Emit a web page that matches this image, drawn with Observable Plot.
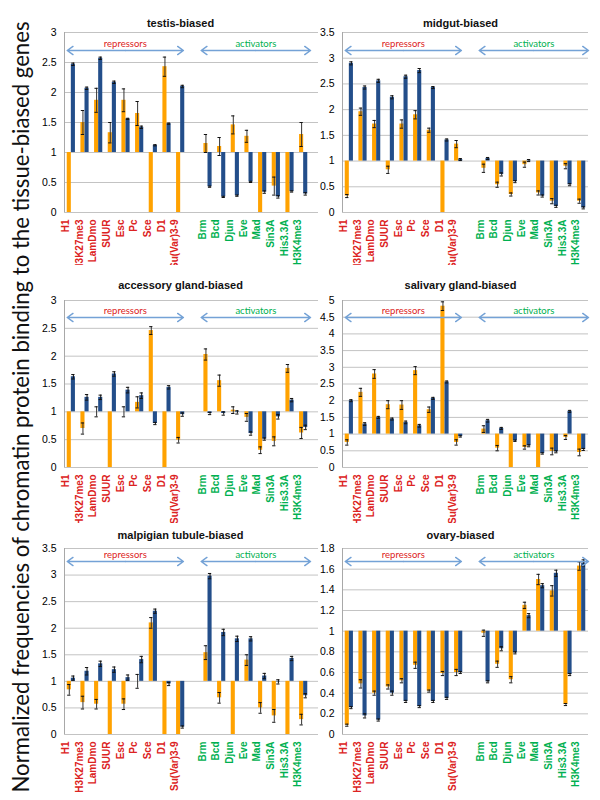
<!DOCTYPE html>
<html><head><meta charset="utf-8">
<script src="https://cdn.jsdelivr.net/npm/d3@7"></script>
<script src="https://cdn.jsdelivr.net/npm/@observablehq/plot@0.6"></script>
<style>
body{margin:0;background:#fff;}
#root{position:relative;width:600px;height:800px;overflow:hidden;background:#fff;}
.panel{position:absolute;}
</style></head><body><div id="root"></div>
<script>
const repressors = ["H1","H3K27me3","LamDmo","SUUR","Esc","Pc","Sce","D1","Su(Var)3-9"];
const activators = ["Brm","Bcd","Djun","Eve","Mad","Sin3A","His3.3A","H3K4me3"];
const groupLabels = ["repressors","activators"];
const yLabel = "Normalized frequencies of chromatin protein binding to the tissue-biased genes";

const titles = ["testis-biased","midgut-biased","accessory gland-biased","salivary gland-biased","malpigian tubule-biased","ovary-biased"];
const yMax = [3, 3.5, 3, 5, 3.5, 1.8];
const yStep = [0.5, 0.5, 0.5, 0.5, 0.5, 0.2];

// testis
const testisOrange    = [0, 1.50, 1.87, 1.33, 1.87, 1.65, 0, 2.43, 0, 1.15, 1.10, 1.46, 1.27, 0, 0.44, 0, 1.30];
const testisOrangeErr = [0, 0.20, 0.20, 0.17, 0.19, 0.20, 0, 0.16, 0, 0.15, 0.15, 0.15, 0.10, 0, 0.15, 0, 0.20];
const testisBlue      = [2.47, 2.07, 2.57, 2.17, 1.56, 1.42, 1.12, 1.48, 2.10, 0.43, 0.26, 0.28, 0.51, 0.34, 0.26, 0.35, 0.31];
const testisBlueErr   = [0.02, 0.02, 0.02, 0.02, 0.01, 0.02, 0.01, 0.01, 0.02, 0.01, 0.01, 0.01, 0.01, 0.02, 0.02, 0.01, 0.02];
// midgut
const midgutOrange    = [0.32, 1.96, 1.72, 0.83, 1.72, 1.90, 1.60, 0, 1.33, 0.86, 0.54, 0.35, 0.93, 0.38, 0.22, 0.90, 0.22];
const midgutOrangeErr = [0.03, 0.07, 0.07, 0.07, 0.08, 0.08, 0.04, 0, 0.07, 0.08, 0.05, 0.03, 0.05, 0.04, 0.05, 0.05, 0.04];
const midgutBlue      = [2.90, 2.43, 2.56, 2.24, 2.64, 2.76, 2.43, 1.41, 1.03, 1.05, 0.74, 0.60, 1.01, 0.32, 0.12, 0.54, 0.09];
const midgutBlueErr   = [0.03, 0.03, 0.03, 0.03, 0.03, 0.04, 0.02, 0.02, 0.02, 0.02, 0.03, 0.02, 0.02, 0.02, 0.02, 0.02, 0.02];
// accessory gland
const accOrange    = [0, 0.70, 1.00, 0, 1.00, 1.17, 2.46, 0, 0.49, 2.03, 1.56, 1.03, 0.90, 0.31, 0.47, 1.78, 0.62];
const accOrangeErr = [0, 0.10, 0.09, 0, 0.09, 0.10, 0.07, 0, 0.05, 0.10, 0.10, 0.06, 0.07, 0.06, 0.08, 0.07, 0.10];
const accBlue      = [1.63, 1.26, 1.26, 1.68, 1.39, 1.29, 0.79, 1.44, 0.95, 0.97, 0.97, 0.99, 0.61, 0.51, 0.91, 1.21, 0.72];
const accBlueErr   = [0.04, 0.05, 0.04, 0.04, 0.05, 0.05, 0.02, 0.03, 0.03, 0.02, 0.03, 0.03, 0.03, 0.02, 0.04, 0.03, 0.04];
// salivary gland
const salOrange    = [0.75, 2.25, 2.80, 1.88, 1.87, 2.90, 1.73, 4.83, 0.75, 1.15, 0.58, 0, 0.60, 0, 0.48, 0.90, 0.45];
const salOrangeErr = [0.08, 0.12, 0.13, 0.12, 0.13, 0.12, 0.08, 0.13, 0.08, 0.10, 0.08, 0, 0.05, 0, 0.10, 0.06, 0.10];
const salBlue      = [2.00, 1.30, 1.50, 1.45, 1.35, 1.25, 2.07, 2.56, 0.93, 1.40, 1.17, 0.80, 0.65, 0.42, 0.47, 1.68, 0.54];
const salBlueErr   = [0.03, 0.04, 0.03, 0.03, 0.04, 0.04, 0.03, 0.03, 0.02, 0.04, 0.03, 0.02, 0.03, 0.02, 0.03, 0.03, 0.03];
// malpighian tubule
const malOrange    = [0.84, 0.60, 0.57, 0, 0.57, 1.00, 2.10, 0, 0, 1.54, 0.69, 0, 1.40, 0.50, 0.35, 0, 0.28];
const malOrangeErr = [0.10, 0.12, 0.09, 0, 0.10, 0.13, 0.10, 0, 0, 0.13, 0.10, 0, 0.10, 0.10, 0.12, 0, 0.10];
const malBlue      = [1.06, 1.19, 1.33, 1.22, 1.07, 1.41, 2.32, 0.95, 0.14, 2.98, 1.92, 1.80, 1.80, 1.10, 0.99, 1.43, 0.73];
const malBlueErr   = [0.04, 0.07, 0.05, 0.05, 0.05, 0.06, 0.04, 0.03, 0.02, 0.05, 0.06, 0.05, 0.04, 0.05, 0.04, 0.04, 0.04];
// ovary
const ovaOrange    = [0.09, 0.49, 0.40, 0.46, 0.52, 0.67, 0.42, 0.59, 0.60, 0.98, 0.68, 0.53, 1.25, 1.50, 1.39, 0.29, 1.63];
const ovaOrangeErr = [0.01, 0.04, 0.02, 0.02, 0.02, 0.03, 0.01, 0.02, 0.03, 0.03, 0.03, 0.03, 0.03, 0.05, 0.05, 0.01, 0.04];
const ovaBlue      = [0.26, 0.18, 0.14, 0.40, 0.32, 0.27, 0.32, 0.35, 0.60, 0.51, 0.83, 0.79, 1.15, 1.44, 1.56, 0.58, 1.66];
const ovaBlueErr   = [0.01, 0.02, 0.01, 0.02, 0.01, 0.01, 0.01, 0.01, 0.01, 0.01, 0.02, 0.01, 0.02, 0.02, 0.03, 0.01, 0.03];

const series = [
  [testisOrange, testisOrangeErr, testisBlue, testisBlueErr],
  [midgutOrange, midgutOrangeErr, midgutBlue, midgutBlueErr],
  [accOrange, accOrangeErr, accBlue, accBlueErr],
  [salOrange, salOrangeErr, salBlue, salBlueErr],
  [malOrange, malOrangeErr, malBlue, malBlueErr],
  [ovaOrange, ovaOrangeErr, ovaBlue, ovaBlueErr]
];

const ORANGE = "#ffa200", BLUE = "#234e8a", RED = "#dc2222", GREEN = "#00b050", ARROW = "#74a2d6", GRID = "#c3c3c3";
const FONT = "'Liberation Sans', Arial, sans-serif";

const cols = [
  {left: 30, width: 288, ml: 34, mr: 0, tdx: -11},
  {left: 318, width: 282, ml: 24, mr: 12, tdx: -5}
];
const rowsGeo = [
  {top: 0, height: 265, mt: 32, mb: 53, tdy: -13, ady: 18, gdy: 11.5},
  {top: 265, height: 258, mt: 35, mb: 56, tdy: -19, ady: 17, gdy: 10},
  {top: 523, height: 277, mt: 25, mb: 66, tdy: -17, ady: 13, gdy: 6.5}
];

const cats = [...repressors, ...activators];
const slotIndex = cats.map((c, i) => i < repressors.length ? i : i + 1);

const root = document.getElementById("root");

titles.forEach((title, p) => {
  const col = cols[p % 2], rg = rowsGeo[Math.floor(p / 2)];
  const [o, oe, b, be] = series[p];
  const data = cats.map((c, i) => ({cat: c, i: slotIndex[i], rep: i < repressors.length, o: o[i], oe: oe[i], b: b[i], be: be[i]}));
  const ymax = yMax[p];
  const ticks = d3.range(0, Math.round(ymax / yStep[p]) + 1).map(k => +(k * yStep[p]).toFixed(1));
  const oErr = data.filter(d => d.oe > 0), bErr = data.filter(d => d.be > 0);
  const first = slotIndex[0], lastRep = slotIndex[repressors.length - 1];
  const firstAct = slotIndex[repressors.length], lastAct = slotIndex[cats.length - 1];
  const groups = [
    {label: groupLabels[0], a: first - 0.3, z: lastRep + 0.2, fill: RED},
    {label: groupLabels[1], a: firstAct - 0.5, z: lastAct + 0.5, fill: GREEN}
  ];
  const arrows = groups.flatMap(g => [{x1: (g.a + g.z) / 2, x2: g.a}, {x1: (g.a + g.z) / 2, x2: g.z}]);

  const chart = Plot.plot({
    width: col.width, height: rg.height,
    marginLeft: col.ml, marginRight: col.mr, marginTop: rg.mt, marginBottom: rg.mb,
    style: {fontFamily: FONT, fontSize: "10px", background: "white", overflow: "hidden"},
    x: {type: "linear", domain: [-0.5, 17.5], range: [col.ml, col.ml + 246], axis: null},
    y: {domain: [0, ymax], axis: null},
    marks: [
      Plot.ruleY(ticks, {stroke: GRID, strokeWidth: 1}),
      Plot.ruleX([-0.5], {stroke: "#a8a8a8", strokeWidth: 1}),
      Plot.axisY({ticks, tickSize: 0, tickPadding: 8, label: null, fontSize: 10.5, tickFormat: d => String(d)}),
      Plot.rect(data, {x1: d => d.i - 0.3, x2: d => d.i, y1: () => 1, y2: "o", fill: ORANGE}),
      Plot.rect(data, {x1: d => d.i, x2: d => d.i + 0.3, y1: () => 1, y2: "b", fill: BLUE}),
      Plot.ruleX(oErr, {x: d => d.i - 0.15, y1: d => d.o - d.oe, y2: d => d.o + d.oe, stroke: "#333", strokeWidth: 1}),
      Plot.ruleY(oErr, {y: d => d.o + d.oe, x1: d => d.i - 0.27, x2: d => d.i - 0.03, stroke: "#111", strokeWidth: 1}),
      Plot.ruleY(oErr, {y: d => d.o - d.oe, x1: d => d.i - 0.27, x2: d => d.i - 0.03, stroke: "#111", strokeWidth: 1}),
      Plot.ruleX(bErr, {x: d => d.i + 0.15, y1: d => d.b - d.be, y2: d => d.b + d.be, stroke: "#111", strokeWidth: 1}),
      Plot.ruleY(bErr, {y: d => d.b + d.be, x1: d => d.i + 0.03, x2: d => d.i + 0.27, stroke: "#111", strokeWidth: 1}),
      Plot.ruleY(bErr, {y: d => d.b - d.be, x1: d => d.i + 0.03, x2: d => d.i + 0.27, stroke: "#111", strokeWidth: 1}),
      Plot.arrow(arrows, {x1: "x1", x2: "x2", y1: () => ymax, y2: () => ymax, dy: rg.ady, stroke: ARROW, strokeWidth: 1.5, headLength: 7, headAngle: 70}),
      Plot.text(groups.slice(0, 1), {x: g => (g.a + g.z) / 2, y: () => ymax, dy: rg.gdy, text: "label", fill: RED, fontSize: 9.5, fontFamily: "Lato"}),
      Plot.text(groups.slice(1), {x: g => (g.a + g.z) / 2, y: () => ymax, dy: rg.gdy, text: "label", fill: GREEN, fontSize: 9.5, fontFamily: "Lato"}),
      Plot.text(data.filter(d => d.rep), {x: "i", text: "cat", frameAnchor: "bottom", dy: 7, dx: -2.5, rotate: -90, textAnchor: "end", fill: RED, fontWeight: "bold", fontSize: 10}),
      Plot.text(data.filter(d => !d.rep), {x: "i", text: "cat", frameAnchor: "bottom", dy: 7, dx: -2.5, rotate: -90, textAnchor: "end", fill: GREEN, fontWeight: "bold", fontSize: 10}),
      Plot.text([title], {frameAnchor: "top", dy: rg.tdy, dx: col.tdx, text: d => d, fontWeight: "bold", fontSize: 11, fill: "#111"})
    ]
  });
  chart.classList.add("panel");
  chart.style.left = col.left + "px";
  chart.style.top = rg.top + "px";
  root.appendChild(chart);
});

// rotated y label
const ns = "http://www.w3.org/2000/svg";
const lab = document.createElementNS(ns, "svg");
lab.setAttribute("width", 45); lab.setAttribute("height", 800);
lab.style.position = "absolute"; lab.style.left = "0px"; lab.style.top = "0px";
const t = document.createElementNS(ns, "text");
t.setAttribute("transform", "translate(29,407) rotate(-90)");
t.setAttribute("text-anchor", "middle");
t.setAttribute("font-family", "Lato, 'Open Sans', sans-serif");
t.setAttribute("font-size", "23");
t.setAttribute("textLength", "771");
t.setAttribute("lengthAdjust", "spacingAndGlyphs");
t.setAttribute("fill", "#111");
t.textContent = yLabel;
lab.appendChild(t);
root.appendChild(lab);
</script>
</body></html>
